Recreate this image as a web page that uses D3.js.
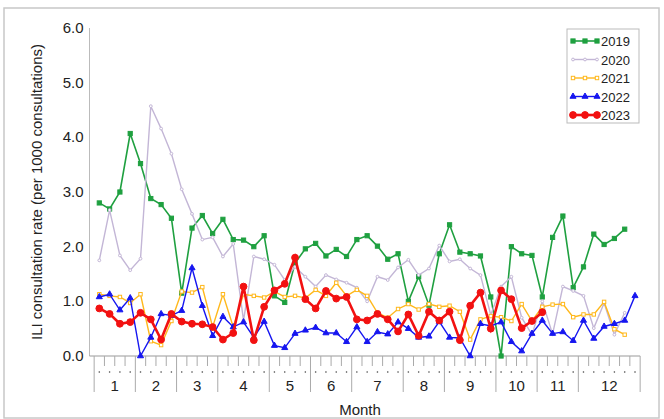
<!DOCTYPE html><html><head><meta charset="utf-8"><script src="https://cdn.jsdelivr.net/npm/d3@7"></script>
<style>body{margin:0;background:#fff}svg{font-family:"Liberation Sans",Arial,sans-serif}</style></head><body><svg id="c" width="664" height="419"></svg><script>
const months=["1","2","3","4","5","6","7","8","9","10","11","12"];
const monthBounds=[-1,3,7,11,16,20,24,29,33,38,42,46,52];
const yTicks=[0,1,2,3,4,5,6];
const v2019=[2.8,2.69,3.0,4.07,3.52,2.88,2.77,2.52,1.15,2.34,2.57,2.24,2.5,2.13,2.12,2.0,2.2,1.1,0.98,1.7,1.96,2.06,1.83,1.95,1.82,2.13,2.2,2.01,1.77,1.87,1.0,1.45,0.93,1.87,2.4,1.9,1.87,1.83,1.08,0.0,2.0,1.87,1.84,1.08,2.17,2.56,1.25,1.63,2.23,2.04,2.15,2.32];
const v2020=[1.75,2.67,1.84,1.57,1.78,4.57,4.16,3.7,3.05,2.6,2.13,2.17,1.82,2.05,0.65,1.82,1.77,1.67,1.39,1.63,1.45,1.27,1.48,1.4,1.34,1.25,1.0,1.45,1.39,1.62,1.76,1.48,1.6,2.02,1.73,1.77,1.6,1.48,0.75,1.27,1.45,0.7,0.39,1.0,0.4,1.27,1.19,1.1,0.51,0.97,0.39,0.79];
const v2021=[1.13,1.1,1.08,0.97,1.13,0.27,0.2,0.64,1.18,1.16,1.26,0.53,1.13,0.53,1.13,1.1,1.07,1.18,1.08,1.1,1.06,1.21,1.1,1.34,1.1,1.21,1.1,0.79,0.7,0.86,0.95,0.85,0.95,0.9,0.92,0.81,0.3,0.67,0.73,0.71,0.64,0.95,0.64,0.9,0.94,0.95,0.71,0.76,0.76,0.99,0.49,0.39];
const v2022=[1.08,1.13,0.84,1.06,0.0,0.34,0.77,0.74,0.83,1.61,0.92,0.37,0.72,0.53,0.62,0.34,0.63,0.19,0.15,0.41,0.47,0.52,0.42,0.42,0.26,0.53,0.26,0.44,0.4,0.62,0.5,0.34,0.36,0.63,0.34,0.33,0.0,0.59,0.55,0.62,0.26,0.09,0.41,0.65,0.41,0.44,0.28,0.65,0.32,0.54,0.59,0.65,1.1];
const v2023=[0.87,0.77,0.59,0.62,0.79,0.67,0.3,0.77,0.63,0.59,0.58,0.53,0.3,0.42,1.27,0.29,0.9,1.2,1.32,1.8,1.04,0.87,1.19,1.05,1.08,0.67,0.65,0.77,0.67,0.45,0.76,0.37,0.81,0.65,0.81,0.29,0.92,1.16,0.5,1.2,1.04,0.51,0.64,0.8];
const series=[
 {name:"2019",v:v2019,c:"#1fa040",w:1.6,m:"square",r:2.1,fill:true},
 {name:"2020",v:v2020,c:"#c3b6d6",w:1.4,m:"circle",r:1.4,fill:false},
 {name:"2021",v:v2021,c:"#ffb81c",w:1.4,m:"square",r:1.7,fill:false},
 {name:"2022",v:v2022,c:"#1616f0",w:1.4,m:"triangle",r:2.2,fill:true},
 {name:"2023",v:v2023,c:"#f21111",w:2.6,m:"circle",r:3.4,fill:true}];
const svg=d3.select("#c");
svg.append("rect").attr("x",4).attr("y",8).attr("width",655).attr("height",410).attr("fill","none").attr("stroke","#c8c8c8").attr("stroke-width",1.5);
const x=d3.scaleLinear().domain([0,52]).range([99.3,635]);
const y=d3.scaleLinear().domain([0,6]).range([356,28]);
const xAxisX=x(-0.95);
svg.append("line").attr("x1",xAxisX).attr("x2",xAxisX).attr("y1",y(6)).attr("y2",y(0)).attr("stroke","#bbb");
svg.append("g").selectAll("text").data(yTicks).join("text").attr("x",xAxisX-6).attr("y",d=>y(d)+5).attr("text-anchor","end").attr("font-size",15).attr("fill","#222").text(d=>d.toFixed(1));
svg.append("line").attr("x1",xAxisX).attr("x2",x(52.5)).attr("y1",y(0)).attr("y2",y(0)).attr("stroke","#999");
const g=svg.append("g");
d3.range(53).forEach(i=>{
 const b=i-0.5; const long=monthBounds.includes(i-1);
 g.append("line").attr("x1",x(b)).attr("x2",x(b)).attr("y1",356).attr("y2",long?392:366).attr("stroke","#aaa");
 g.append("circle").attr("cx",x(i)).attr("cy",372).attr("r",0.8).attr("fill","#444");
});
g.append("line").attr("x1",x(52.5)).attr("x2",x(52.5)).attr("y1",356).attr("y2",392).attr("stroke","#aaa");
months.forEach((m,k)=>{const a=monthBounds[k]+0.5,b=monthBounds[k+1]+0.5;
 g.append("text").attr("x",x((a+b)/2)).attr("y",391).attr("text-anchor","middle").attr("font-size",15).attr("fill","#222").text(m);});
svg.append("text").attr("x",360).attr("y",415).attr("text-anchor","middle").attr("font-size",15).attr("fill","#222").text("Month");
svg.append("text").attr("transform","translate(42,192) rotate(-90)").attr("text-anchor","middle").attr("font-size",15).attr("fill","#222").text("ILI consultation rate (per 1000 consultations)");
function marker(sel,s,cx,cy){
 let e;
 if(s.m==="square") e=sel.append("rect").attr("x",cx-s.r).attr("y",cy-s.r).attr("width",2*s.r).attr("height",2*s.r);
 else if(s.m==="circle") e=sel.append("circle").attr("cx",cx).attr("cy",cy).attr("r",s.r);
 else e=sel.append("path").attr("d",d3.symbol(d3.symbolTriangle,16)()).attr("transform",`translate(${cx},${cy})`);
 e.attr("fill",s.fill?s.c:"#fff").attr("stroke",s.c).attr("stroke-width",1);
}
const line=d3.line().x((d,i)=>x(i)).y(d=>y(d));
series.forEach(s=>{
 svg.append("path").attr("d",line(s.v)).attr("fill","none").attr("stroke",s.c).attr("stroke-width",s.w);
 const mg=svg.append("g"); s.v.forEach((d,i)=>marker(mg,s,x(i),y(d)));
});
const lg=svg.append("g");
lg.append("rect").attr("x",567).attr("y",29).attr("width",72).attr("height",94).attr("fill","#fff").attr("stroke","#bbb");
series.forEach((s,k)=>{const yy=41+k*18.5;
 lg.append("line").attr("x1",572).attr("x2",598).attr("y1",yy).attr("y2",yy).attr("stroke",s.c).attr("stroke-width",s.w);
 [573,585,597].forEach(cx=>marker(lg,s,cx,yy));
 lg.append("text").attr("x",601).attr("y",yy+5).attr("font-size",13).attr("fill","#222").text(s.name);});
</script></body></html>
